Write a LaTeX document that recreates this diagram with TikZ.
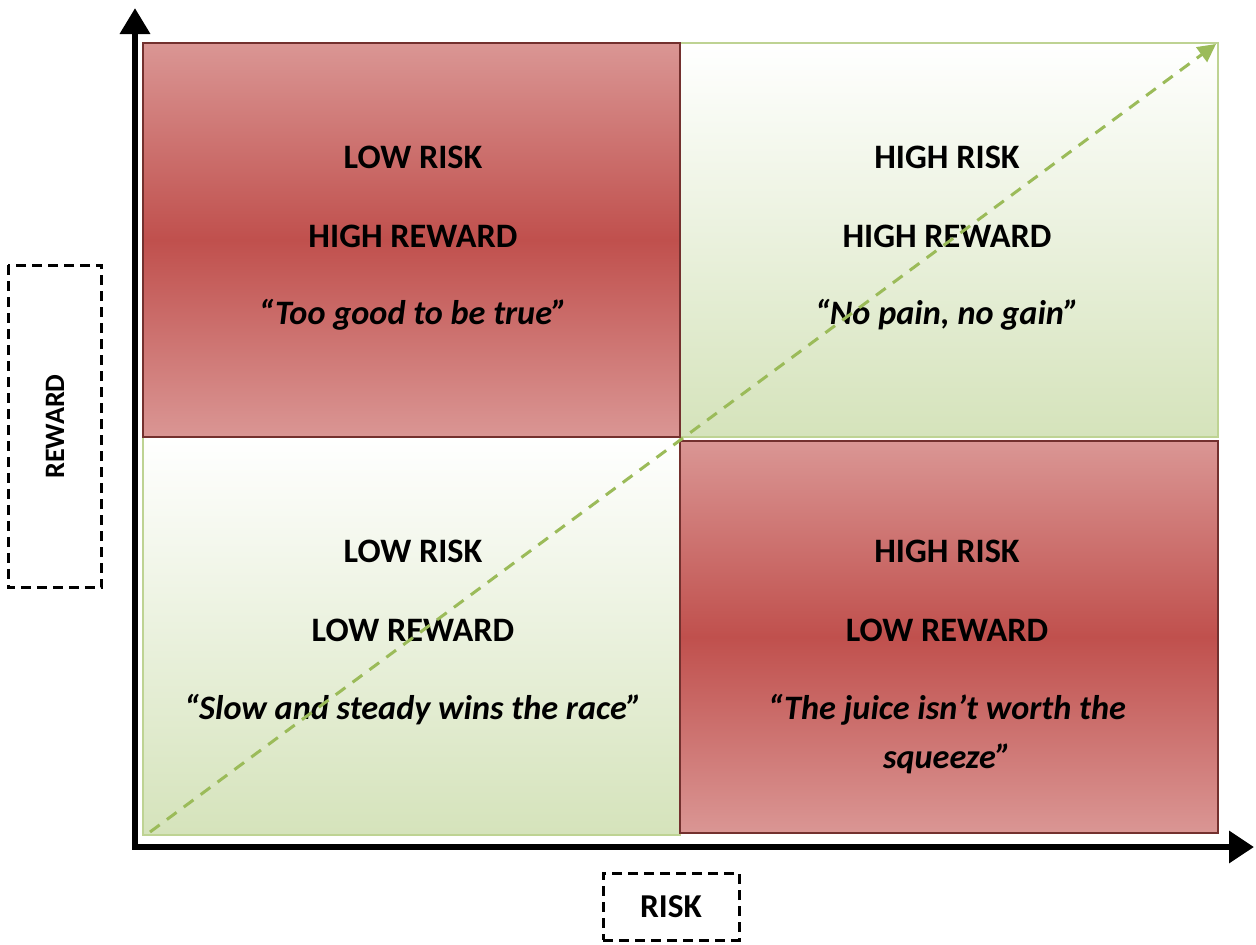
\documentclass[tikz,border=0pt]{standalone}
\usepackage{fontspec}
\setmainfont{Carlito}
\usepackage{xcolor}
\usetikzlibrary{positioning}
\usetikzlibrary{arrows.meta}

\definecolor{quadred}{RGB}{192,80,77}
\definecolor{quadpink}{RGB}{218,150,148}
\definecolor{quadgreen}{RGB}{213,227,187}
\definecolor{linegreen}{RGB}{155,187,89}

\tikzset{
    redquad/.style={draw=quadred!60!black, line width=0.03cm, top color=quadpink, bottom color=quadpink, middle color=quadred},
    greenquad/.style={draw=linegreen!65!white, line width=0.05cm, top color=white, bottom color=quadgreen},
    quadtext/.style={anchor=base, font=\bfseries\fontsize{19.5}{24}\selectfont},
    quadquote/.style={quadtext, font=\bfseries\itshape\fontsize{19.5}{24}\selectfont},
    axisline/.style={line width=0.13cm, line join=miter, {Triangle[width=0.58cm,length=0.52cm]}-{Triangle[width=0.62cm,length=0.5cm]}},
    trendline/.style={linegreen, line width=0.06cm, dash pattern=on 0.24cm off 0.18cm, -{Triangle[width=0.36cm,length=0.36cm]}},
    axisbox/.style={draw, line width=0.06cm, dash pattern=on 0.2cm off 0.12cm, inner sep=0}
}

\begin{document}
\begin{tikzpicture}[x=0.02cm, y=-0.02cm]

\useasboundingbox (0,0) rectangle (1256,944);

% quadrants
{
\path[greenquad] (680,43) rectangle (1218,437);
\path[greenquad] (143,437) rectangle (680,835);

\path[redquad] (143,43) rectangle (680,437);
\path[redquad] (680,441) rectangle (1218,833);
}

% nodes
{
\node[quadtext] (tlrisk) at (413,168) {LOW RISK};
\node[quadtext] (tlreward) at (413,247) {HIGH REWARD};
\node[quadquote] (tlquote) at (413,324) {“Too good to be true”};

\node[quadtext] (trrisk) at (947,168) {HIGH RISK};
\node[quadtext] (trreward) at (947,247) {HIGH REWARD};
\node[quadquote] (trquote) at (947,324) {“No pain, no gain”};

\node[quadtext] (blrisk) at (413,562) {LOW RISK};
\node[quadtext] (blreward) at (413,641) {LOW REWARD};
\node[quadquote] (blquote) at (413,719) {“Slow and steady wins the race”};

\node[quadtext] (brrisk) at (947,562) {HIGH RISK};
\node[quadtext] (brreward) at (947,641) {LOW REWARD};
\node[quadquote] (brquote) at (947,719) {“The juice isn’t worth the};
\node[quadquote] (brquotetwo) at (947,768) {squeeze”};
}

% trend
\coordinate (trendstart) at (150,832);
\coordinate (trendend) at (1216,44);
\draw[trendline] (trendstart) -- (trendend);

% axes
\coordinate (origin) at (135,847);
\coordinate (ytip) at (135,8);
\coordinate (xtip) at (1254,847);
\draw[axisline] (ytip) -- (origin) -- (xtip);

% axis labels
\node[axisbox, rotate=90, minimum width=6.46cm, minimum height=1.88cm, font=\bfseries\fontsize{16}{19}\selectfont] (rewardbox) at (55,426.5) {REWARD};
\node[axisbox, minimum width=2.72cm, minimum height=1.34cm, font=\bfseries\fontsize{19}{22}\selectfont] (riskbox) at (671,906.5) {RISK};

\end{tikzpicture}
\end{document}
